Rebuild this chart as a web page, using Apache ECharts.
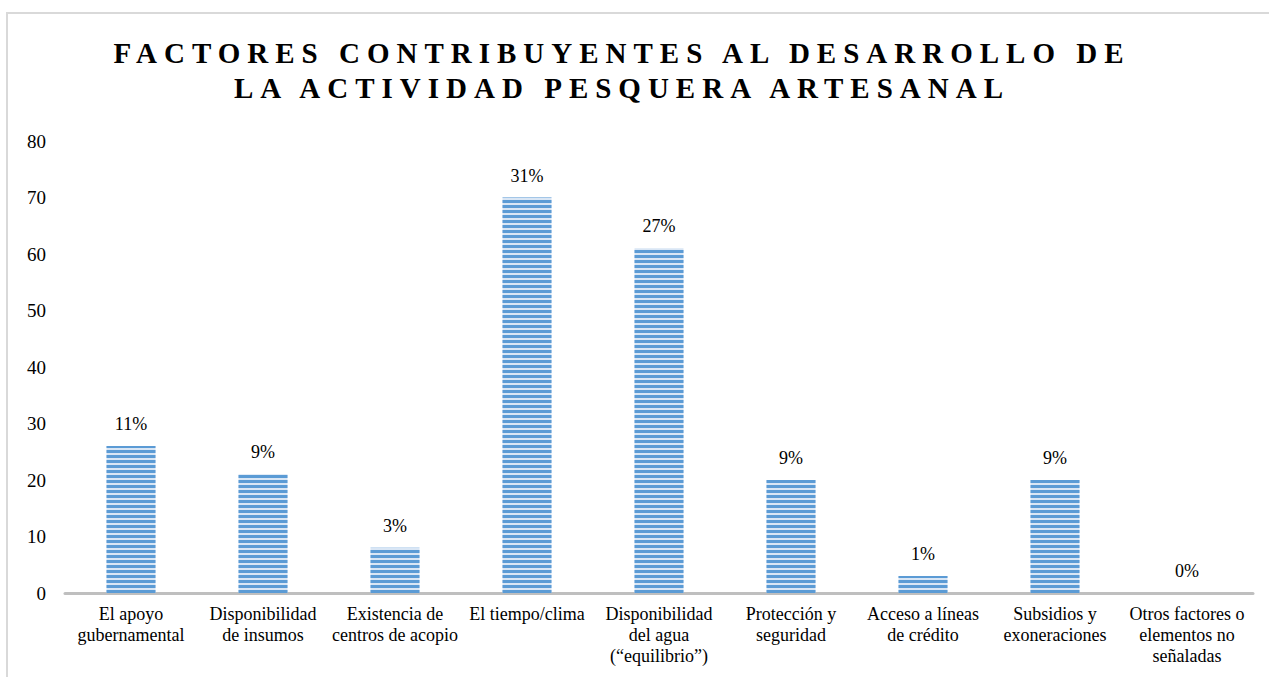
<!DOCTYPE html>
<html>
<head>
<meta charset="utf-8">
<title>Factores contribuyentes</title>
<script src="https://cdn.jsdelivr.net/npm/echarts@6.0.0/dist/echarts.min.js"></script>
<style>
  html, body { margin: 0; padding: 0; background: #fff; }
  #chart { width: 1269px; height: 677px; }
  /* title is letter-spaced in the original (expanded character spacing) */
  #chart text[style*="29px"] { letter-spacing: 7px; }
</style>
</head>
<body>
<div id="chart"></div>
<script>
const categories = [
  "El apoyo\ngubernamental",
  "Disponibilidad\nde insumos",
  "Existencia de\ncentros de acopio",
  "El tiempo/clima",
  "Disponibilidad\ndel agua\n(\u201cequilibrio\u201d)",
  "Protección y\nseguridad",
  "Acceso a líneas\nde crédito",
  "Subsidios y\nexoneraciones",
  "Otros factores o\nelementos no\nseñaladas",
];
const values = [26, 21, 8, 70, 61, 20, 3, 20, 0];
const pctLabels = ["11%", "9%", "3%", "31%", "27%", "9%", "1%", "9%", "0%"];
const yTicks = [0, 10, 20, 30, 40, 50, 60, 70, 80];

const serif = "Liberation Serif";

const chart = echarts.init(document.getElementById("chart"), null, {
  renderer: "svg",
});

const options = {
  animation: false,
  backgroundColor: "#ffffff",
  textStyle: { fontFamily: serif },
  title: {
    text: "FACTORES CONTRIBUYENTES AL DESARROLLO DE\nLA ACTIVIDAD PESQUERA ARTESANAL",
    left: 622,
    top: 35,
    padding: 0,
    textAlign: "center",
    textStyle: {
      fontFamily: serif,
      fontSize: 29,
      fontWeight: "bold",
      color: "#000000",
      lineHeight: 35,
    },
  },
  graphic: [
    {
      type: "rect",
      shape: { x: 7, y: 13, width: 1300, height: 700 },
      style: { fill: "none", stroke: "#d9d9d9", lineWidth: 2 },
      silent: true,
    },
  ],
  grid: {
    left: 65,
    right: 16,
    top: 141,
    bottom: 84,
  },
  xAxis: {
    type: "category",
    data: categories,
    axisLine: { lineStyle: { color: "#bfbfbf", width: 3 } },
    axisTick: { show: false },
    axisLabel: {
      interval: 0,
      margin: 10,
      fontFamily: serif,
      fontSize: 18,
      lineHeight: 21,
      color: "#000000",
    },
  },
  yAxis: {
    type: "value",
    min: yTicks[0],
    max: yTicks[yTicks.length - 1],
    interval: yTicks[1] - yTicks[0],
    axisLine: { show: false },
    axisTick: { show: false },
    splitLine: { show: false },
    axisLabel: {
      margin: 19,
      fontFamily: serif,
      fontSize: 19,
      color: "#000000",
    },
  },
  series: [
    {
      type: "bar",
      data: values,
      barWidth: 49,
      itemStyle: {
        color: "#d9e6f5",
        decal: {
          symbol: "rect",
          symbolSize: 1,
          symbolKeepAspect: false,
          color: "#5b9bd5",
          dashArrayX: [10, 0],
          dashArrayY: [3, 2],
          rotation: 0,
        },
      },
      label: {
        show: true,
        position: "top",
        distance: 13,
        fontFamily: serif,
        fontSize: 18,
        color: "#000000",
        formatter: (p) => pctLabels[p.dataIndex],
      },
    },
  ],
};

chart.setOption(options);
</script>
</body>
</html>
